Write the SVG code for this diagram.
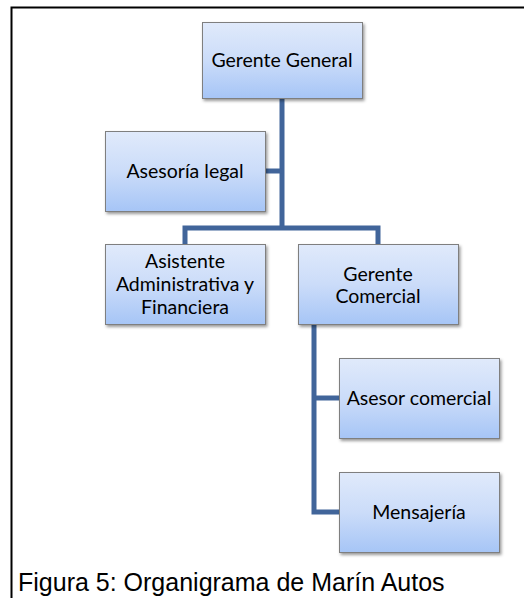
<svg xmlns="http://www.w3.org/2000/svg" width="524" height="598" viewBox="0 0 524 598">
<style>
.box{fill:url(#g);stroke:#7f7f7f;stroke-width:1;filter:url(#sh)}
.t{font-family:Lato,"Open Sans",sans-serif;font-size:19.5px;fill:#000;text-anchor:middle;dominant-baseline:central}
.c{fill:none;stroke:#41659a;stroke-width:5}
</style>
<defs>
<linearGradient id="g" x1="0" y1="0" x2="0" y2="1">
<stop offset="0" stop-color="#e0eafb"/>
<stop offset="0.5" stop-color="#cbdcf9"/>
<stop offset="1" stop-color="#a6c5f6"/>
</linearGradient>
<filter id="sh" x="-10%" y="-10%" width="130%" height="130%">
<feDropShadow dx="1.5" dy="2" stdDeviation="1.8" flood-color="#000" flood-opacity="0.4"/>
</filter>
</defs>
<path d="M11.5,598 V7.5 H524" fill="none" stroke="#000" stroke-width="2"/>
<g id="connectors">
<path class="c" d="M282,98 V228"/>
<path class="c" d="M266,171 H282"/>
<path class="c" d="M185,244 V228 H378 V244"/>
<path class="c" d="M314,325 V512 H339"/>
<path class="c" d="M314,398 H339"/>
</g>
<g id="gerente-general"><rect class="box" x="202.5" y="22.5" width="160" height="76"/><text class="t" x="282" y="59">Gerente General</text></g>
<g id="asesoria-legal"><rect class="box" x="105.5" y="131.5" width="160" height="80"/><text class="t" x="185" y="170">Asesoría legal</text></g>
<g id="asistente"><rect class="box" x="105.5" y="244.5" width="160" height="80"/><text class="t" x="185" y="260">Asistente</text><text class="t" x="185" y="283">Administrativa y</text><text class="t" x="185" y="306">Financiera</text></g>
<g id="gerente-comercial"><rect class="box" x="298.5" y="244.5" width="160" height="80"/><text class="t" x="378" y="273">Gerente</text><text class="t" x="378" y="295">Comercial</text></g>
<g id="asesor-comercial"><rect class="box" x="339.5" y="358.5" width="160" height="80"/><text class="t" x="419" y="397">Asesor comercial</text></g>
<g id="mensajeria"><rect class="box" x="339.5" y="472.5" width="160" height="80"/><text class="t" x="419" y="511">Mensajería</text></g>
<text x="18" y="591" font-family="'Liberation Sans',Arial,sans-serif" font-size="25px" fill="#000">Figura 5: Organigrama de Marín Autos</text>
</svg>
